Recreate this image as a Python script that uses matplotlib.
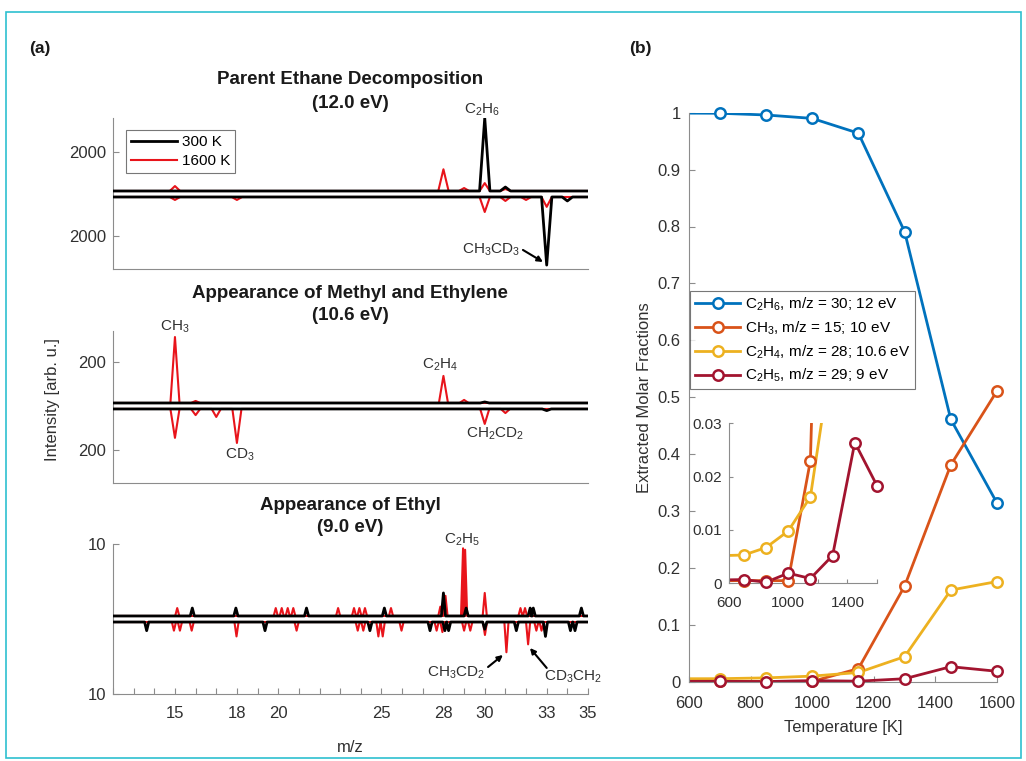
import numpy as np
import matplotlib
matplotlib.use('Agg')
import matplotlib.pyplot as plt
from matplotlib.ticker import FixedLocator, FuncFormatter

plt.rcParams['font.family'] = ['Liberation Sans', 'DejaVu Sans']
plt.rcParams['mathtext.fontset'] = 'custom'
plt.rcParams['mathtext.rm'] = 'Liberation Sans'
plt.rcParams['mathtext.it'] = 'Liberation Sans:italic'
plt.rcParams['mathtext.bf'] = 'Liberation Sans:bold'
plt.rcParams['mathtext.default'] = 'regular'

# ---------------- Panel (a) data: peak lists (m/z, intensity) ----------------
mz_ticks = [15, 18, 20, 25, 28, 30, 33, 35]

# 12.0 eV  (upper = C2H6 side, lower = CH3CD3 side)
e12_black_up_mz = [30, 31]
e12_black_up_h = [3700, 200]
e12_red_up_mz = [15, 28, 29, 30, 31]
e12_red_up_h = [250, 1100, 150, 400, 100]
e12_black_dn_mz = [33, 34]
e12_black_dn_h = [3450, 200]
e12_red_dn_mz = [15, 18, 30, 31, 32, 33]
e12_red_dn_h = [150, 150, 760, 200, 150, 500]

# 10.6 eV
e106_black_up_mz = [30]
e106_black_up_h = [5]
e106_red_up_mz = [15, 16, 28, 29]
e106_red_up_h = [322, 10, 132, 15]
e106_black_dn_mz = [33]
e106_black_dn_h = [8]
e106_red_dn_mz = [15, 16, 17, 18, 30, 31]
e106_red_dn_h = [141, 30, 39, 166, 73, 20]

# 9.0 eV
e9_black_up_mz = [15.84, 17.95, 21.37, 25.14, 28.0, 29.1, 32.2, 32.35, 34.68]
e9_black_up_h = [1.1, 1.1, 1.1, 1.1, 3.2, 1.1, 1.1, 1.1, 1.1]
e9_red_up_mz = [15.11, 19.88, 20.17, 20.46, 20.73, 22.9, 23.67, 23.93, 24.2,
                25.46, 27.85, 28.1, 28.95, 29.05, 30.0, 31.73, 31.95]
e9_red_up_h = [1.1, 1.1, 1.1, 1.1, 1.1, 1.1, 1.1, 1.1, 1.1,
               1.1, 1.3, 2.8, 9.4, 9.2, 3.2, 1.1, 1.1]
e9_black_dn_mz = [13.63, 19.36, 24.44, 27.35, 28.07, 28.25, 30.0, 31.53, 32.94, 34.15, 34.37]
e9_black_dn_h = [1.2, 1.2, 1.2, 1.2, 1.2, 1.2, 1.0, 1.2, 2.0, 1.2, 1.2]
e9_red_dn_mz = [14.95, 15.24, 15.81, 17.98, 20.89, 23.85, 24.12, 24.85, 25.06, 25.97,
                27.67, 27.95, 29.0, 29.3, 30.01, 31.05, 32.1, 32.5, 32.75]
e9_red_dn_h = [1.2, 1.2, 1.2, 2.0, 1.2, 1.2, 1.2, 2.0, 2.0, 1.2,
               1.2, 1.4, 1.2, 1.2, 1.8, 4.2, 3.1, 1.2, 1.2]

# ---------------- Panel (b) data ----------------
temps = [300, 700, 850, 1000, 1150, 1300, 1450, 1600]
frac_c2h6 = [1.0, 0.999, 0.996, 0.990, 0.964, 0.791, 0.461, 0.314]
frac_ch3 = [0.0005, 0.0005, 0.0005, 0.0005, 0.023, 0.168, 0.381, 0.511]
frac_c2h4 = [0.005, 0.0053, 0.0067, 0.0098, 0.0162, 0.044, 0.161, 0.176]
frac_c2h5 = [0.0005, 0.0007, 0.0002, 0.0019, 0.0009, 0.0052, 0.0264, 0.0183]
series_labels = [r'C$_2$H$_6$, m/z = 30; 12 eV', r'CH$_3$, m/z = 15; 10 eV',
                 r'C$_2$H$_4$, m/z = 28; 10.6 eV', r'C$_2$H$_5$, m/z = 29; 9 eV']
series_colors = ['#0072BD', '#D95319', '#EDB120', '#A2142F']

# ---------------- figure ----------------
W, H = 1026, 761
fig = plt.figure(figsize=(W / 100, H / 100), dpi=100)

SPINE = '#8c8c8c'
TXT = '#303030'


def fx(px):
    return px / W


def fy(py):
    return 1 - py / H


def trace(mz, h, hw):
    xs = [12.0]
    ys = [0.0]
    for m, v in sorted(zip(mz, h)):
        xs += [m - hw, m, m + hw]
        ys += [0.0, v, 0.0]
    xs.append(35.0)
    ys.append(0.0)
    return np.array(xs), np.array(ys)


def style_axes(ax):
    for s in ['top', 'right']:
        ax.spines[s].set_visible(False)
    for s in ['left', 'bottom']:
        ax.spines[s].set_color(SPINE)
        ax.spines[s].set_linewidth(0.8)
    ax.tick_params(direction='in', colors=SPINE, labelcolor=TXT, width=0.8)


panels = [
    dict(top=118, bot=269, gap=152, ylim=(-3800, 3850), tick=2000, hw=0.25,
         data=(e12_black_up_mz, e12_black_up_h, e12_red_up_mz, e12_red_up_h,
               e12_black_dn_mz, e12_black_dn_h, e12_red_dn_mz, e12_red_dn_h),
         title=('Parent Ethane Decomposition', '(12.0 eV)'), t1=80, t2=104),
    dict(top=331, bot=483, gap=14.6, ylim=(-376, 366), tick=200, hw=0.22,
         data=(e106_black_up_mz, e106_black_up_h, e106_red_up_mz, e106_red_up_h,
               e106_black_dn_mz, e106_black_dn_h, e106_red_dn_mz, e106_red_dn_h),
         title=('Appearance of Methyl and Ethylene', '(10.6 eV)'), t1=293, t2=316),
    dict(top=544, bot=694, gap=0.42, ylim=(-10.42, 10.42), tick=10, hw=0.1,
         data=(e9_black_up_mz, e9_black_up_h, e9_red_up_mz, e9_red_up_h,
               e9_black_dn_mz, e9_black_dn_h, e9_red_dn_mz, e9_red_dn_h),
         title=('Appearance of Ethyl', '(9.0 eV)'), t1=505, t2=528),
]

axes_a = []
for i, P in enumerate(panels):
    ax = fig.add_axes([fx(113), fy(P['bot']), fx(588 - 113), (P['bot'] - P['top']) / H])
    style_axes(ax)
    g = P['gap']
    bu_m, bu_h, ru_m, ru_h, bd_m, bd_h, rd_m, rd_h = P['data']
    x, y = trace(ru_m, ru_h, P['hw'])
    lr, = ax.plot(x, g + y, color='#e8141b', lw=1.5, zorder=2)
    x, y = trace(rd_m, rd_h, P['hw'])
    ax.plot(x, -(g + y), color='#e8141b', lw=1.5, zorder=2)
    x, y = trace(bu_m, bu_h, P['hw'])
    lb, = ax.plot(x, g + y, color='black', lw=2.0, zorder=3)
    x, y = trace(bd_m, bd_h, P['hw'])
    ax.plot(x, -(g + y), color='black', lw=2.0, zorder=3)
    ax.set_xlim(12, 35)
    ax.set_ylim(*P['ylim'])
    ax.set_yticks([-(g + P['tick']), g + P['tick']])
    ax.set_yticklabels([str(P['tick']), str(P['tick'])], fontsize=12)
    if i < 2:
        ax.set_xticks([])
    else:
        ax.xaxis.set_major_locator(FixedLocator(list(range(12, 36))))
        ax.xaxis.set_major_formatter(FuncFormatter(lambda v, p: f'{int(v)}' if int(round(v)) in mz_ticks else ''))
        ax.tick_params(axis='x', labelsize=12, length=4, pad=9)
    ax.tick_params(axis='y', length=4, pad=5)
    fig.text(fx(350), fy(P['t1']), P['title'][0], ha='center', va='center',
             fontsize=13.5, fontweight='bold', color='#1a1a1a')
    fig.text(fx(350), fy(P['t2']), P['title'][1], ha='center', va='center',
             fontsize=13.5, fontweight='bold', color='#1a1a1a')
    axes_a.append((ax, lb, lr))

ax1, lb1, lr1 = axes_a[0]
ax1.legend([lb1, lr1], ['300 K', '1600 K'], loc='upper left',
           bbox_to_anchor=(fx(126), fy(130)), bbox_transform=fig.transFigure,
           fontsize=11, handlelength=3.0, fancybox=False, frameon=True,
           edgecolor='#555555', borderpad=0.35, labelspacing=0.3, handletextpad=0.3,
           borderaxespad=0).get_frame().set_linewidth(0.8)

lab_fs = 11
# top annotations
ax1.text(29.87, 4253, r'C$_2$H$_6$', ha='center', va='center', fontsize=lab_fs, color=TXT)
ax1.text(30.3, -2835, r'CH$_3$CD$_3$', ha='center', va='center', fontsize=lab_fs, color=TXT)
ax1.annotate('', xy=(32.82, -3443), xytext=(31.85, -2835),
             arrowprops=dict(arrowstyle='-|>', color='black', lw=1.5, mutation_scale=8, shrinkA=0, shrinkB=0))

ax2 = axes_a[1][0]
ax2.text(15.0, 385, r'CH$_3$', ha='center', va='center', fontsize=lab_fs, color=TXT)
ax2.text(18.15, -239, r'CD$_3$', ha='center', va='center', fontsize=lab_fs, color=TXT)
ax2.text(27.83, 200, r'C$_2$H$_4$', ha='center', va='center', fontsize=lab_fs, color=TXT)
ax2.text(30.5, -137, r'CH$_2$CD$_2$', ha='center', va='center', fontsize=lab_fs, color=TXT)

ax3 = axes_a[2][0]
ax3.text(28.9, 11.0, r'C$_2$H$_5$', ha='center', va='center', fontsize=lab_fs, color=TXT)
ax3.text(28.6, -7.5, r'CH$_3$CD$_2$', ha='center', va='center', fontsize=lab_fs, color=TXT)
ax3.annotate('', xy=(30.88, -5.0), xytext=(30.16, -6.67),
             arrowprops=dict(arrowstyle='-|>', color='black', lw=1.5, mutation_scale=8, shrinkA=0, shrinkB=0))
ax3.text(32.85, -8.06, r'CD$_3$CH$_2$', ha='left', va='center', fontsize=lab_fs, color=TXT)
ax3.annotate('', xy=(32.19, -4.03), xytext=(33.0, -6.8),
             arrowprops=dict(arrowstyle='-|>', color='black', lw=1.5, mutation_scale=8, shrinkA=0, shrinkB=0))
ax3.set_xlabel('m/z', fontsize=12, color=TXT, labelpad=13)

fig.text(fx(52), fy(400), 'Intensity [arb. u.]', rotation=90, ha='center', va='center',
         fontsize=12, color=TXT)

# ---------------- Panel (b) ----------------
axb = fig.add_axes([fx(689), fy(681.7), fx(997 - 689), 569 / H])
style_axes(axb)
series = [frac_c2h6, frac_ch3, frac_c2h4, frac_c2h5]
handles = []
for vals, col in zip(series, series_colors):
    axb.plot(temps, vals, color=col, lw=2.0, clip_on=True, zorder=2)
    t_in = [t for t in temps if 600 <= t <= 1600]
    v_in = [v for t, v in zip(temps, vals) if 600 <= t <= 1600]
    axb.plot(t_in, v_in, ls='none', marker='o', ms=7.5, mfc='white', mec=col, mew=1.8,
             clip_on=False, zorder=3)
    h, = axb.plot([], [], color=col, lw=2.0, marker='o', ms=7.5, mfc='white', mec=col, mew=1.8)
    handles.append(h)
axb.set_xlim(600, 1600)
axb.set_ylim(0, 1)
axb.set_xticks(np.arange(600, 1601, 200))
axb.set_yticks(np.round(np.arange(0, 1.01, 0.1), 1))
axb.yaxis.set_major_formatter(FuncFormatter(lambda v, p: f'{v:g}'))
axb.tick_params(labelsize=12, length=4)
axb.tick_params(axis='x', pad=10)
axb.tick_params(axis='y', pad=6)
axb.set_xlabel('Temperature [K]', fontsize=12, color=TXT, labelpad=7)
axb.set_ylabel('Extracted Molar Fractions', fontsize=12, color=TXT, labelpad=4)
leg = axb.legend(handles, series_labels, loc='upper left',
                 bbox_to_anchor=(fx(690), fy(291)), bbox_transform=fig.transFigure,
                 fontsize=11, handlelength=3.0, fancybox=False, edgecolor='#555555',
                 borderpad=0.3, labelspacing=0.42, handletextpad=0.3, borderaxespad=0)
leg.get_frame().set_linewidth(0.8)

# inset
axi = fig.add_axes([fx(729), fy(583.3), fx(877 - 729), 160 / H])
style_axes(axi)
axi.patch.set_alpha(0)
for vals, col in zip(series, series_colors):
    axi.plot(temps, vals, color=col, lw=2.0, clip_on=True, zorder=2)
    t_in = [t for t, v in zip(temps, vals) if 600 <= t <= 1600 and v <= 0.03]
    v_in = [v for t, v in zip(temps, vals) if 600 <= t <= 1600 and v <= 0.03]
    axi.plot(t_in, v_in, ls='none', marker='o', ms=7.5, mfc='white', mec=col, mew=1.8,
             clip_on=False, zorder=3)
axi.set_xlim(600, 1600)
axi.set_ylim(0, 0.03)
axi.xaxis.set_major_locator(FixedLocator([600, 800, 1000, 1200, 1400, 1600]))
axi.xaxis.set_major_formatter(FuncFormatter(lambda v, p: f'{int(v)}' if int(v) in (600, 1000, 1400) else ''))
axi.set_yticks([0, 0.01, 0.02, 0.03])
axi.yaxis.set_major_formatter(FuncFormatter(lambda v, p: f'{v:g}'))
axi.tick_params(labelsize=11, length=3)
axi.tick_params(axis='x', pad=9)
axi.tick_params(axis='y', pad=5)

# panel letters
fig.text(fx(40), fy(48), '(a)', ha='center', va='center', fontsize=12.5, fontweight='bold', color='#1a1a1a')
fig.text(fx(640), fy(48), '(b)', ha='center', va='center', fontsize=12.5, fontweight='bold', color='#1a1a1a')

# cyan frame
fig.add_artist(plt.Rectangle((fx(6), fy(758)), fx(1021 - 6), (758 - 12) / H,
                             transform=fig.transFigure, fill=False, ec='#2ec0cf', lw=1.2))

fig.savefig('out.png', dpi=100)
